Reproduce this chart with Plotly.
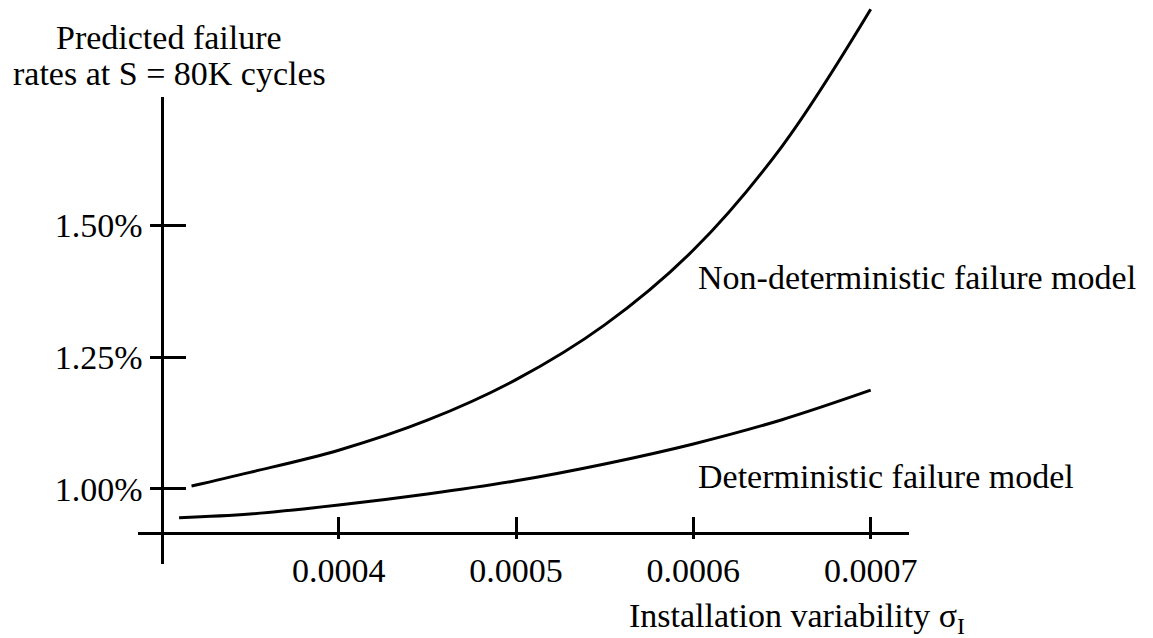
import plotly.graph_objects as go

# ---- data ----
sigma_nd = [0.000317, 0.00035, 0.0004, 0.00045, 0.0005, 0.00055, 0.0006, 0.00065, 0.0007]
rate_nd = [1.005, 1.031, 1.073, 1.130, 1.207, 1.311, 1.453, 1.650, 1.910]   # % (non-deterministic)
sigma_d = [0.00031, 0.00035, 0.0004, 0.00045, 0.0005, 0.00055, 0.0006, 0.00065, 0.0007]
rate_d = [0.945, 0.952, 0.969, 0.990, 1.015, 1.047, 1.085, 1.131, 1.187]     # % (deterministic)

x_tickvals = [0.0004, 0.0005, 0.0006, 0.0007]
x_ticktext = ["0.0004", "0.0005", "0.0006", "0.0007"]
y_tickvals = [1.00, 1.25, 1.50]
y_ticktext = ["1.00%", "1.25%", "1.50%"]

label_nd = "Non-deterministic failure model"
label_d = "Deterministic failure model"
x_title = "Installation variability σ<sub>I</sub>"
y_title_1 = "Predicted failure"
y_title_2 = "rates at S = 80K cycles"

# ---- layout constants ----
W, H = 1153, 638
FONT = "Liberation Serif, Times New Roman, serif"
FS = 34

full_x_range = [0.000209, 0.0008592]
full_y_range = [0.71659, 1.92768]
axis_x_domain = [138 / W, 909 / W]
axis_x_range = [0.00028682, 0.0007216]
axis_y_domain = [1 - 564 / H, 1 - 97 / H]
axis_y_range = [0.85706, 1.74355]
x_axis_pos = 1 - 532.7 / H
y_axis_pos = 161.5 / W

fig = go.Figure()
line_style = dict(color="black", width=3, shape="spline", smoothing=1.0)
fig.add_trace(go.Scatter(x=sigma_nd, y=rate_nd, mode="lines", line=line_style,
                         xaxis="x3", yaxis="y3", showlegend=False, hoverinfo="skip"))
fig.add_trace(go.Scatter(x=sigma_d, y=rate_d, mode="lines", line=line_style,
                         xaxis="x3", yaxis="y3", showlegend=False, hoverinfo="skip"))

# invisible companions so that the drawn axes (x/y, x2, y2) get subplots
for xa, ya in [("x", "y"), ("x2", "y"), ("x", "y2")]:
    fig.add_trace(go.Scatter(x=sigma_d, y=rate_d, mode="lines", opacity=0,
                             line=dict(width=0.1, color="rgba(0,0,0,0)"),
                             xaxis=xa, yaxis=ya, showlegend=False, hoverinfo="skip"))

tickfont = dict(family=FONT, size=FS, color="black")
common = dict(showgrid=False, zeroline=False, fixedrange=True, automargin=False)

fig.update_layout(
    width=W, height=H, autosize=False,
    margin=dict(l=0, r=0, t=0, b=0, pad=0, autoexpand=False),
    paper_bgcolor="white", plot_bgcolor="rgba(0,0,0,0)",
    showlegend=False,
    xaxis3=dict(domain=[0, 1], range=full_x_range, visible=False, anchor="y3", **common),
    yaxis3=dict(domain=[0, 1], range=full_y_range, visible=False, anchor="x3", **common),
    xaxis=dict(domain=axis_x_domain, range=axis_x_range, anchor="free", position=x_axis_pos,
               showline=True, linecolor="black", linewidth=3,
               ticks="outside", ticklen=4, tickwidth=3, tickcolor="black",
               tickvals=x_tickvals, ticktext=x_ticktext, tickfont=tickfont,
               ticklabelstandoff=2, **common),
    xaxis2=dict(overlaying="x", range=axis_x_range, anchor="free", position=x_axis_pos,
                showline=False, ticks="inside", ticklen=16, tickwidth=3, tickcolor="black",
                tickvals=x_tickvals, showticklabels=False, **common),
    yaxis=dict(domain=axis_y_domain, range=axis_y_range, anchor="free", position=y_axis_pos,
               showline=True, linecolor="black", linewidth=3,
               ticks="outside", ticklen=11, tickwidth=3, tickcolor="black",
               tickvals=y_tickvals, ticktext=y_ticktext, tickfont=tickfont,
               ticklabelstandoff=0, **common),
    yaxis2=dict(overlaying="y", range=axis_y_range, anchor="free", position=y_axis_pos,
                showline=False, ticks="inside", ticklen=23, tickwidth=3, tickcolor="black",
                tickvals=y_tickvals, showticklabels=False, **common),
)

ann_font = dict(family=FONT, size=FS, color="black")
annotations = [
    dict(text=y_title_1, x=169 / W, y=1 - 37.5 / H, xanchor="center", yanchor="middle"),
    dict(text=y_title_2, x=169 / W, y=1 - 73.5 / H, xanchor="center", yanchor="middle"),
    dict(text=label_nd, x=696.5 / W, y=1 - 278 / H, xanchor="left", yanchor="middle"),
    dict(text=label_d, x=696.5 / W, y=1 - 476.4 / H, xanchor="left", yanchor="middle"),
    dict(text=x_title, x=628 / W, y=1 - 618 / H, xanchor="left", yanchor="middle"),
]
for a in annotations:
    fig.add_annotation(xref="paper", yref="paper", showarrow=False, font=ann_font,
                       borderpad=0, **a)

fig.write_html("out.html", config={"responsive": False, "displayModeBar": False})
